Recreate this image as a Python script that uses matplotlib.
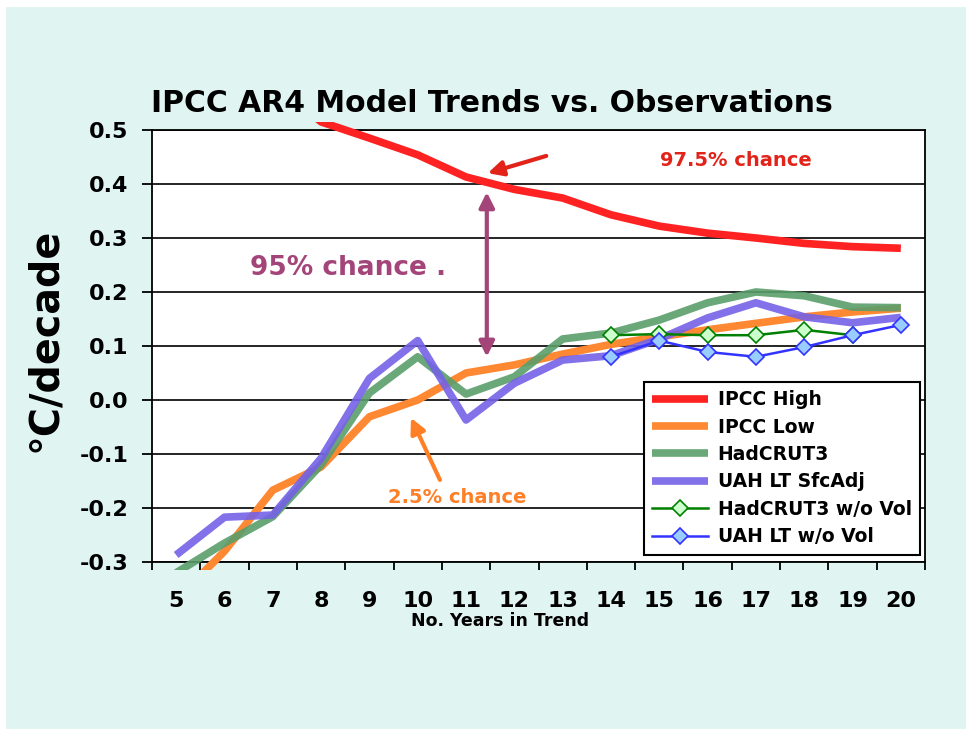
import matplotlib
matplotlib.use('Agg')
import matplotlib.pyplot as plt
from matplotlib.patches import Rectangle

plt.rcParams['font.family'] = 'DejaVu Sans'
plt.rcParams['font.weight'] = 'bold'

# No. years in trend
years = list(range(5, 21))

# trend series (degC / decade)
ipcc_high = [0.75, 0.66, 0.59, 0.515, 0.485, 0.454, 0.413, 0.39, 0.374, 0.343,
             0.322, 0.309, 0.300, 0.290, 0.284, 0.281]
ipcc_low = [-0.37, -0.28, -0.167, -0.124, -0.031, 0.0, 0.05, 0.065, 0.085, 0.103,
            0.117, 0.13, 0.142, 0.154, 0.163, 0.17]
hadcrut3 = [-0.32, -0.265, -0.216, -0.12, 0.013, 0.08, 0.011, 0.043, 0.113, 0.124,
            0.148, 0.18, 0.2, 0.193, 0.172, 0.171]
uah_sfc = [-0.287, -0.217, -0.213, -0.108, 0.04, 0.11, -0.037, 0.031, 0.074, 0.082,
           0.113, 0.152, 0.18, 0.154, 0.143, 0.153]

# volcano-removed series (years 14..)
years_hv = [14, 15, 16, 17, 18, 19]
hadcrut3_novol = [0.12, 0.122, 0.12, 0.12, 0.13, 0.12]
years_uv = [14, 15, 16, 17, 18, 19, 20]
uah_novol = [0.08, 0.11, 0.089, 0.08, 0.098, 0.12, 0.139]

bg = '#e0f4f2'
fig = plt.figure(figsize=(9.66, 7.29), dpi=100)
fig.patch.set_facecolor('white')
fig.patches.append(Rectangle((6 / 966, 0), 1, 1 - 7 / 729, transform=fig.transFigure,
                             facecolor=bg, edgecolor='none', zorder=-10))

ax = fig.add_axes([152 / 966, 1 - 562 / 729, 773 / 966, 432 / 729])
ax.set_facecolor('white')

# Excel lets thick lines spill a little past the plot area
clip = Rectangle((0, -0.018), 1, 1.036, transform=ax.transAxes, facecolor='none', edgecolor='none')
ax.add_patch(clip)

lw = 5.5
series = [
    (ipcc_high, '#ff2222', 1.0, 'IPCC High'),
    (ipcc_low, '#ff8833', 1.0, 'IPCC Low'),
    (hadcrut3, '#5a9e6a', 0.9, 'HadCRUT3'),
    (uah_sfc, '#7462e6', 0.9, 'UAH LT SfcAdj'),
]
for vals, col, a, lab in series:
    ln, = ax.plot(years, vals, color=col, lw=lw, alpha=a, label=lab,
                  solid_capstyle='butt', solid_joinstyle='round', zorder=3)
    ln.set_clip_path(clip)

ax.plot(years_hv, hadcrut3_novol, color='#008000', lw=1.8, marker='D', markersize=8,
        markerfacecolor='#ccffcc', markeredgecolor='#008000', markeredgewidth=1.2,
        label='HadCRUT3 w/o Vol', zorder=4)
ax.plot(years_uv, uah_novol, color='#3333ff', lw=1.8, marker='D', markersize=8,
        markerfacecolor='#99ccff', markeredgecolor='#3333ff', markeredgewidth=1.2,
        label='UAH LT w/o Vol', zorder=5)

ax.set_xlim(4.5, 20.5)
ax.set_ylim(-0.3, 0.5)
ax.set_yticks([-0.3, -0.2, -0.1, 0.0, 0.1, 0.2, 0.3, 0.4, 0.5])
ax.set_yticklabels(['-0.3', '-0.2', '-0.1', '0.0', '0.1', '0.2', '0.3', '0.4', '0.5'],
                   fontsize=16, fontweight='bold')
ax.set_xticks([y - 0.5 for y in years] + [20.5])
ax.set_xticklabels([])
ax.set_xticks(years, minor=True)
ax.set_xticklabels([str(y) for y in years], minor=True, fontsize=16, fontweight='bold')
ax.tick_params(axis='x', which='major', direction='out', length=6, width=1.3, color='black')
ax.tick_params(axis='x', which='minor', length=0, pad=21)
ax.tick_params(axis='y', direction='out', length=7, width=1.3, pad=10)
ax.grid(axis='y', color='black', lw=1.2)
ax.set_axisbelow(True)
for sp in ax.spines.values():
    sp.set_color('black')
    sp.set_linewidth(1.3)

# annotations
red_ann = '#e2231a'
mauve = '#a4457a'
orange_ann = '#ff7f27'
ax.text(16.59, 0.443, '97.5% chance', color=red_ann, fontsize=14, fontweight='bold',
        ha='center', va='center')
ax.annotate('', xy=(11.45, 0.42), xytext=(12.66, 0.452),
            arrowprops=dict(arrowstyle='-|>,head_length=0.9,head_width=0.45', color=red_ann, lw=3,
                            shrinkA=0, shrinkB=0))
ax.text(8.56, 0.244, '95% chance .', color=mauve, fontsize=19, fontweight='bold',
        ha='center', va='center')
ax.annotate('', xy=(11.43, 0.385), xytext=(11.43, 0.08),
            arrowprops=dict(arrowstyle='<|-|>,head_length=0.9,head_width=0.45', color=mauve, lw=3,
                            shrinkA=0, shrinkB=0))
ax.text(10.81, -0.181, '2.5% chance', color=orange_ann, fontsize=14, fontweight='bold',
        ha='center', va='center')
ax.annotate('', xy=(9.86, -0.033), xytext=(10.46, -0.148),
            arrowprops=dict(arrowstyle='-|>,head_length=0.9,head_width=0.45', color=orange_ann, lw=3,
                            shrinkA=0, shrinkB=0))

leg = ax.legend(loc='lower right', bbox_to_anchor=(1.006, -0.005), fontsize=13.5, frameon=True,
                fancybox=False, edgecolor='black', framealpha=1, handlelength=3.0,
                labelspacing=0.45, borderpad=0.45, handletextpad=0.5)
leg.get_frame().set_linewidth(1.5)
for t in leg.get_texts():
    t.set_fontweight('bold')

fig.text(492 / 966, 1 - 103 / 729, 'IPCC AR4 Model Trends vs. Observations', fontsize=21.5,
         fontweight='bold', ha='center', va='center')
fig.text(45 / 966, 1 - 340 / 729, '°C/decade', fontsize=28.5, fontweight='bold', rotation=90,
         ha='center', va='center')
fig.text(500 / 966, 1 - 621 / 729, 'No. Years in Trend', fontsize=12.5, fontweight='bold',
         ha='center', va='center')

fig.savefig('out.png', dpi=100, facecolor=fig.get_facecolor())
